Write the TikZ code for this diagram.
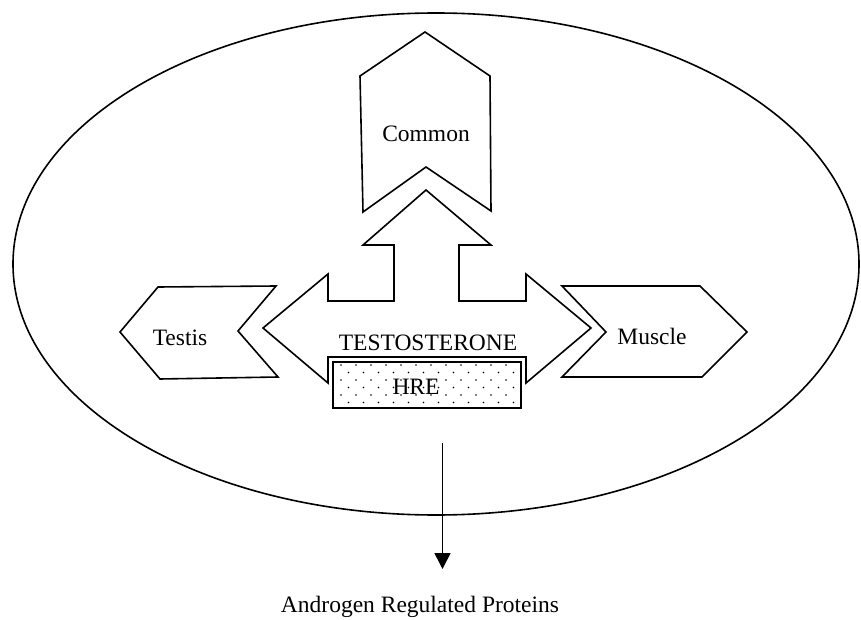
\documentclass[tikz,border=0pt]{standalone}
\usepackage{fontspec}
\setmainfont{Liberation Serif}
\usetikzlibrary{arrows.meta}

\tikzset{
  outline/.style={line width=1.6pt, line join=miter},
  lbl/.style={font=\fontsize{23.5}{26}\selectfont, inner sep=0pt, anchor=base}
}

\begin{document}
\begin{tikzpicture}[x=1pt, y=-1pt]
			%%%%% START %%%%%
			\useasboundingbox (0, 0) rectangle (861, 620);
			
			\draw[line width=1.6pt] (436, 264) ellipse (423 and 251);
			
			% common chevron
			\draw[outline] (425, 32) -- (490, 76) -- (491, 211) -- (426, 167) -- (363, 212) -- (360, 76) -- cycle;
			
			% three-way arrow
			\draw[outline] (263, 328) -- (328, 274) -- (328, 301) -- (394, 301) -- (394, 245) -- (363, 245)
			  -- (426, 190) -- (491, 245) -- (459, 245) -- (459, 301) -- (526, 301) -- (526, 274)
			  -- (591, 328) -- (526, 383) -- (526, 357) -- (328, 357) -- (328, 383) -- cycle;
			
			% HRE box
			\draw[outline] (333, 362) rectangle (521, 408);
			\foreach \r in {0,...,5}{
			  \pgfmathsetmacro{\yy}{365 + 7.5*\r}
			  \pgfmathsetmacro{\xo}{mod(\r,2)*7.5}
			  \foreach \c in {0,...,11}{
			    \fill ({341 + \xo + 15*\c}, \yy) circle (0.9);
			  }
			}
			
			% testis and muscle chevrons
			\draw[outline] (120, 332) -- (158, 287) -- (276, 286) -- (238, 331) -- (278, 377) -- (160, 379) -- cycle;
			\draw[outline] (562, 286) -- (700, 286) -- (747, 332) -- (702, 377) -- (562, 377) -- (606, 332) -- cycle;
			
			\node[lbl] (common) at (426, 142) {Common};
			\node[lbl] (testo) at (428, 350) {TESTOSTERONE};
			\node[lbl] (hre) at (416, 394) {HRE};
			\node[lbl] (testis) at (180, 345) {Testis};
			\node[lbl] (muscle) at (652, 344) {Muscle};
			\node[lbl] (arp) at (420, 612) {Androgen Regulated Proteins};
			
			\coordinate (src) at (442.5, 443);
			\coordinate (dst) at (442.5, 569);
			\draw[line width=1.6pt, -{Triangle[width=16pt, length=16pt]}] (src) -- (dst);
			
			%%%%% END %%%%%
		\end{tikzpicture}
\end{document}
